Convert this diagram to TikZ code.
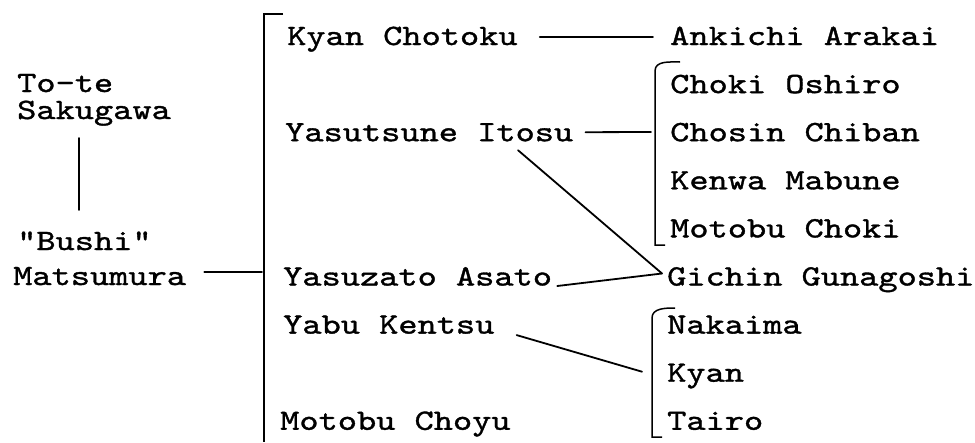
\documentclass[tikz,border=0pt]{standalone}
\usepackage{fontspec}
\setmonofont[FakeStretch=1.24,FakeBold=1.2]{lmmono10-regular.otf}
\begin{document}
\begin{tikzpicture}[x=1pt,y=-1pt,
  person/.style={font=\fontsize{29.5}{30}\selectfont\ttfamily, inner sep=0pt, anchor=base west, text height=18pt, text depth=0pt},
  link/.style={line width=1.8pt, line cap=round},
  brk/.style={line width=1.5pt}]
\useasboundingbox (0,0) rectangle (975,442);
\fill[white] (0,0) rectangle (975,442);
% left column
\node[person] (tt) at (17,92) {To-te};
\node[person] (sk) at (17,119) {Sakugawa};
\node[person] (bu) at (17,250) {"Bushi"};
\node[person] (ma) at (13,285) {Matsumura};
% middle column
\node[person] (kc) at (287,45) {Kyan Chotoku};
\node[person] (yi) at (285,141.2) {Yasutsune Itosu};
\node[person] (ya) at (283,285.5) {Yasuzato Asato};
\node[person] (yk) at (283,333.6) {Yabu Kentsu};
\node[person] (mc) at (280,429.8) {Motobu Choyu};
% right column
\node[person] (aa) at (670,45) {Ankichi Arakai};
\node[person] (co) at (670,93.1) {Choki Oshiro};
\node[person] (cc) at (670,141.2) {Chosin Chiban};
\node[person] (km) at (670,189.3) {Kenwa Mabune};
\node[person] (mk) at (670,237.4) {Motobu Choki};
\node[person] (gg) at (667,285.5) {Gichin Gunagoshi};
\node[person] (nk) at (667,333.6) {Nakaima};
\node[person] (ky) at (667,381.7) {Kyan};
\node[person] (ta) at (667,429.8) {Tairo};
% bracket coordinates
\coordinate (LT) at (264,14);
\coordinate (LB) at (264,442);
\coordinate (MJ) at (262,272);
\coordinate (RT) at (655,63);
\coordinate (RB) at (655,245);
\coordinate (RI) at (651,132);
\coordinate (NT) at (652,310);
\coordinate (NB) at (652,437);
\coordinate (GJ) at ([shift={(-5,-12)}]gg.base west);
% brackets
\draw[brk] ([shift={(19,0)}]LT) -- (LT) -- (LB);
\draw[brk] ([shift={(25,-1)}]RT) to[out=180,in=90] ([shift={(0,8)}]RT) -- (RB) -- ([shift={(10,0)}]RB);
\draw[brk] ([shift={(23,-2)}]NT) to[out=180,in=90] ([shift={(0,8)}]NT) -- (NB) -- ([shift={(10,0)}]NB);
% connectors
\draw[link] ([shift={(62,19)}]sk.base west) -- ([shift={(62,-40)}]bu.base west);
\draw[link] ([shift={(18,-13)}]ma.base east) -- (MJ);
\draw[link] ([shift={(22,-8)}]kc.base east) -- ([shift={(-17,-8)}]aa.base west);
\draw[link] ([shift={(12,-9)}]yi.base east) -- (RI);
\draw[link] ([shift={(233,9)}]yi.base west) -- (GJ);
\draw[link] ([shift={(5,0.5)}]ya.base east) -- (GJ);
\draw[link] ([shift={(22,1.5)}]yk.base east) -- ([shift={(-25,-10)}]ky.base west);
\end{tikzpicture}
\end{document}
